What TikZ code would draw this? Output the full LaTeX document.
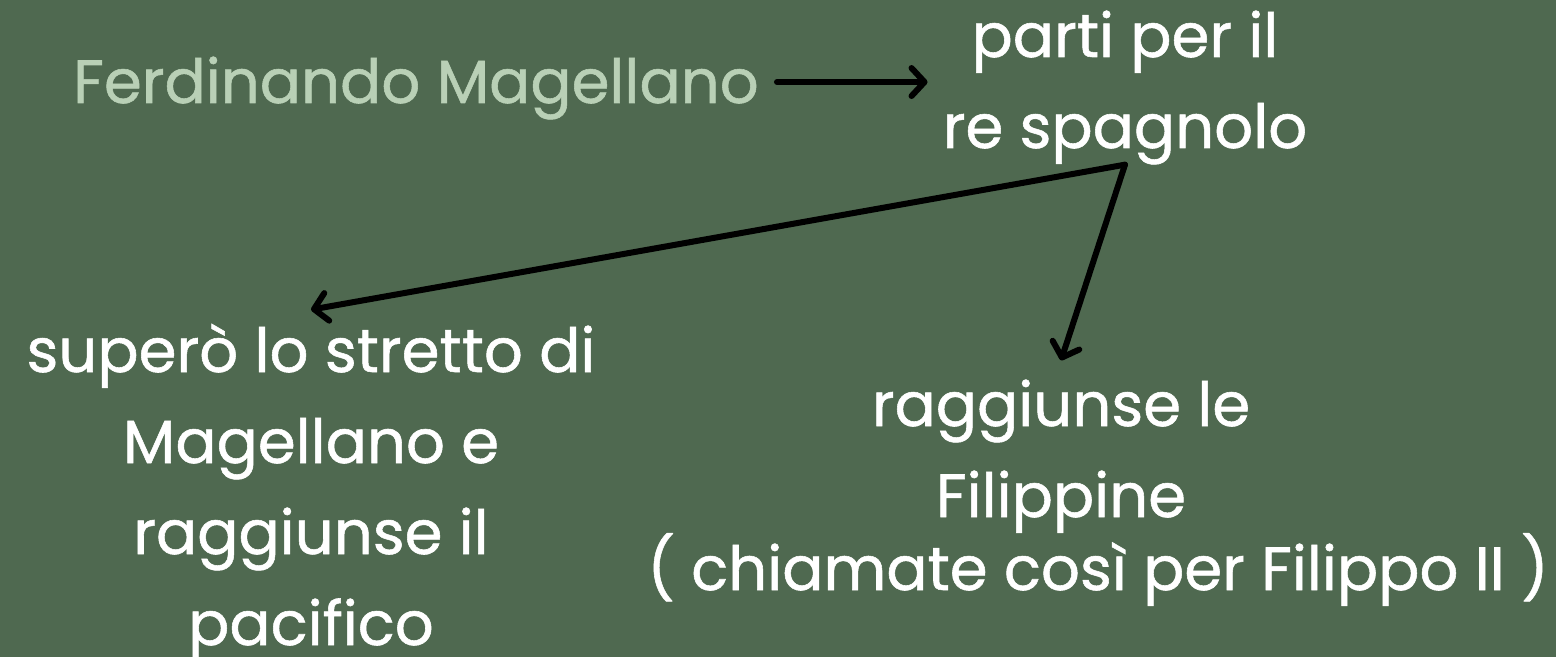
\documentclass[tikz,border=0pt]{standalone}
\usepackage{fontspec}
\setmainfont{Poppins}[BoldFont=Poppins, BoldFeatures={FakeBold=0.9}]
\usetikzlibrary{arrows.meta}
\definecolor{bggreen}{HTML}{4F6950}
\definecolor{sage}{HTML}{B9D0B6}
\tikzstyle{fact} = [text=white, align=center, font=\fontsize{61}{91}\selectfont\bfseries, inner sep=0pt]
\tikzstyle{arrow} = [line width=6pt, black, line cap=round, -{Straight Barb[length=13pt,width=28pt,round]}]

\begin{document}
\begin{tikzpicture}[x=1pt, y=1pt]
	    \useasboundingbox (0,0) rectangle (1556,657);
	    \fill[bggreen] (0,0) rectangle (1556,657);

	    % base anchor = baseline of the last line
	    \node[fact, text=sage, anchor=base] (fm) at (416,554) {Ferdinando Magellano};
	    \node[fact, anchor=base] (rs) at (1125,509) {parti per il\\re spagnolo};
	    \node[fact, anchor=base] (lb) at (311,12) {superò lo stretto di\\Magellano e\\raggiunse il\\pacifico};
	    \node[fact, anchor=base] (rb) at (1061,140) {raggiunse le\\Filippine};
	    \node[fact, anchor=base] (note) at (1098,67) {( chiamate così per Filippo II )};

	    \draw[arrow] ([xshift=18pt,yshift=6pt]fm.east) -- ([xshift=-15pt,yshift=6pt]fm.east -| rs.west);
	    \draw[arrow] (rs.south) -- ([yshift=14pt]lb.north);
	    \draw[arrow] (rs.south) -- ([yshift=19pt]rb.north);
	\end{tikzpicture}
\end{document}
